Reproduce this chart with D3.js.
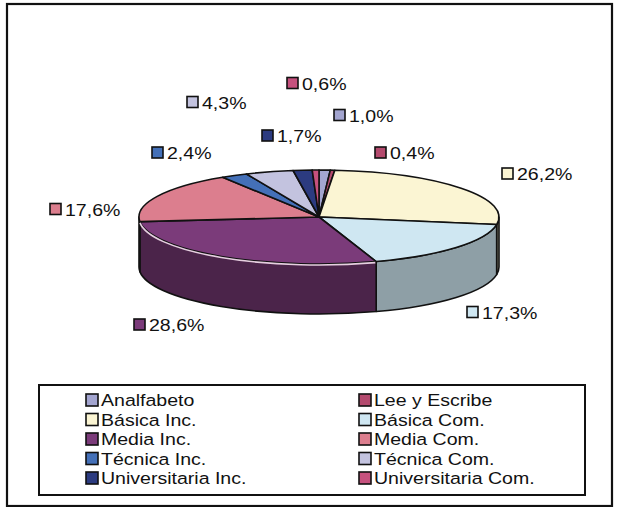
<!DOCTYPE html>
<html>
<head>
<meta charset="utf-8">
<script src="https://cdn.jsdelivr.net/npm/d3@7"></script>
<style>
  body { margin: 0; background: #fff; }
  text { font-family: "Liberation Sans", Arial, sans-serif; fill: #111; }
</style>
</head>
<body>
<svg id="chart" width="618" height="507"></svg>
<script>
// ---------- data ----------
const categories = ["Analfabeto", "Lee y Escribe", "Básica Inc.", "Básica Com.", "Media Inc.",
                    "Media Com.", "Técnica Inc.", "Técnica Com.", "Universitaria Inc.", "Universitaria Com."];
const values = [1.0, 0.4, 26.2, 17.3, 28.6, 17.6, 2.4, 4.3, 1.7, 0.6];
const valueLabels = ["1,0%", "0,4%", "26,2%", "17,3%", "28,6%", "17,6%", "2,4%", "4,3%", "1,7%", "0,6%"];
const colors = ["#a3a5d0", "#b44a6e", "#fbf5d3", "#cfe7f2", "#7b3b7a",
                "#dc7e8e", "#4470b8", "#c3c3df", "#2c3b80", "#c6517e"];

// ---------- layout ----------
const svg = d3.select("#chart");
const cx = 319, cy = 217, rx = 180, ry = 47, depth = 50;
// data-label anchor points (marker left, vertical centre), in the order of categories
const labelAnchors = [[334, 115.5], [375, 153], [502, 174], [467, 312.5], [134, 325],
                      [50, 209.5], [152, 153], [187, 102.5], [262, 136], [287, 83.5]];
const fontSize = 17;
const stretch = 1.15;

// outer frame
svg.append("rect").attr("x", 7).attr("y", 4).attr("width", 605).attr("height", 502)
  .attr("fill", "#fff").attr("stroke", "#111").attr("stroke-width", 2.2);

const pie = d3.pie().sort(null).startAngle(0).endAngle(2 * Math.PI).value(d => d);
const arcs = pie(values);

const pt = (a, off = 0) => [cx + rx * Math.sin(a), cy - ry * Math.cos(a) + off];

const g = svg.append("g");

// side walls (front half only)
const walls = [];
arcs.forEach((d, i) => {
  const a = Math.max(d.startAngle, Math.PI / 2);
  const b = Math.min(d.endAngle, 3 * Math.PI / 2);
  if (b > a) walls.push({ i, a, b });
});
walls.forEach(w => {
  const p0 = pt(w.a), p1 = pt(w.b), q1 = pt(w.b, depth), q0 = pt(w.a, depth);
  const path = `M${p0}A${rx},${ry} 0 0 1 ${p1}L${q1}A${rx},${ry} 0 0 0 ${q0}Z`;
  const dark = d3.hsl(colors[w.i]).l < 0.4 ? 1.4 : 1.05;
  g.append("path").attr("d", path)
    .attr("fill", d3.rgb(colors[w.i]).darker(dark))
    .attr("stroke", "#111").attr("stroke-width", 1.6).attr("stroke-linejoin", "round");
});

// top faces
arcs.forEach((d, i) => {
  const p0 = pt(d.startAngle), p1 = pt(d.endAngle);
  const large = (d.endAngle - d.startAngle) > Math.PI ? 1 : 0;
  const path = `M${cx},${cy}L${p0}A${rx},${ry} 0 ${large} 1 ${p1}Z`;
  g.append("path").attr("d", path)
    .attr("fill", colors[i])
    .attr("stroke", "#111").attr("stroke-width", 1.6).attr("stroke-linejoin", "round");
});

// light edge highlight on dark walls
walls.forEach(w => {
  if (d3.hsl(colors[w.i]).l < 0.4) {
    const p0 = pt(w.a + 0.005, 1), p1 = pt(w.b - 0.005, 1);
    g.append("path").attr("d", `M${p0}A${rx},${ry} 0 0 1 ${p1}`)
      .attr("fill", "none").attr("stroke", "#e6cfe0").attr("stroke-width", 1.6);
  }
});

function addText(sel, x, y, str) {
  sel.append("text")
    .attr("transform", `translate(${x},${y}) scale(${stretch},1)`)
    .attr("dy", "0.36em")
    .attr("font-size", fontSize).text(str);
}

// data labels
const lab = svg.append("g");
arcs.forEach((d, i) => {
  const [lx, ly] = labelAnchors[i];
  lab.append("rect").attr("x", lx).attr("y", ly - 6).attr("width", 11).attr("height", 11)
    .attr("fill", colors[i]).attr("stroke", "#111").attr("stroke-width", 1.6);
  addText(lab, lx + 15, ly, valueLabels[i]);
});

// legend
const legX = 39, legY = 385, legW = 546, legH = 110;
svg.append("rect").attr("x", legX).attr("y", legY).attr("width", legW).attr("height", legH)
  .attr("fill", "#fff").attr("stroke", "#111").attr("stroke-width", 2);
const colX = [86, 359];
const rowY0 = 400, rowStep = 19.5;
const leg = svg.append("g");
categories.forEach((c, i) => {
  const col = i % 2, row = Math.floor(i / 2);
  const x = colX[col], y = rowY0 + row * rowStep;
  leg.append("rect").attr("x", x).attr("y", y - 6).attr("width", 12).attr("height", 12)
    .attr("fill", colors[i]).attr("stroke", "#111").attr("stroke-width", 1.6);
  addText(leg, x + 15, y, c);
});
</script>
</body>
</html>
